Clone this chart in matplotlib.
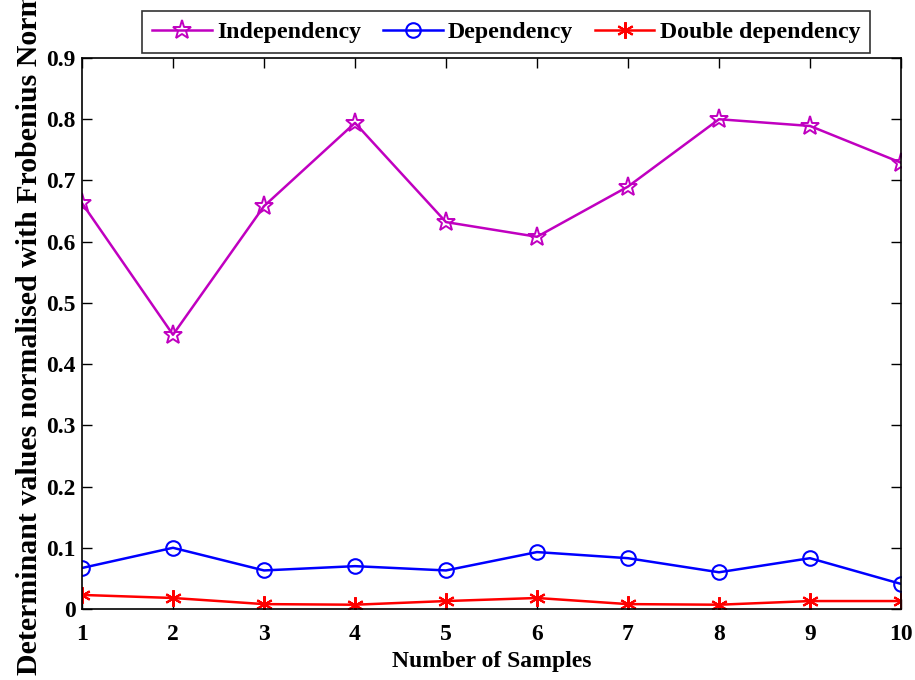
import matplotlib
matplotlib.use("Agg")
import matplotlib.pyplot as plt

plt.rcParams['font.family'] = ['Liberation Serif', 'DejaVu Serif']
plt.rcParams['font.weight'] = 'bold'

samples = [1, 2, 3, 4, 5, 6, 7, 8, 9, 10]
independency = [0.663, 0.448, 0.658, 0.794, 0.632, 0.608, 0.690, 0.800, 0.789, 0.729]
dependency = [0.067, 0.100, 0.063, 0.070, 0.063, 0.093, 0.083, 0.060, 0.083, 0.041]
double_dep = [0.023, 0.018, 0.008, 0.007, 0.013, 0.018, 0.008, 0.007, 0.013, 0.013]
yticks = [0, 0.1, 0.2, 0.3, 0.4, 0.5, 0.6, 0.7, 0.8, 0.9]
ytick_labels = ['0', '0.1', '0.2', '0.3', '0.4', '0.5', '0.6', '0.7', '0.8', '0.9']

fig = plt.figure(figsize=(9.15, 6.8), dpi=100)
ax = fig.add_axes([0.0896, 0.1044, 0.8951, 0.8103])

ax.plot(samples, independency, color='#c000c0', marker='*', markersize=14,
        markerfacecolor='none', markeredgewidth=1.4, linewidth=1.8, label='Independency')
ax.plot(samples, dependency, color='blue', marker='o', markersize=10.5,
        markerfacecolor='none', markeredgewidth=1.5, linewidth=1.8, label='Dependency')
ax.plot(samples, double_dep, color='red', marker=(6, 2, 0), markersize=12,
        markeredgewidth=1.5, linewidth=1.8, label='Double dependency')

ax.set_xlim(1, 10)
ax.set_ylim(0, 0.9)
ax.set_xticks(samples)
ax.set_yticks(yticks)
ax.set_yticklabels(ytick_labels)
ax.tick_params(direction='in', top=True, right=True, labelsize=17, length=7, width=1)
ax.tick_params(axis='x', pad=11)
ax.tick_params(axis='y', pad=4.5)
for lab in ax.get_xticklabels() + ax.get_yticklabels():
    lab.set_fontweight('bold')
for s in ax.spines.values():
    s.set_linewidth(1.2)

ax.set_xlabel('Number of Samples', fontsize=17, fontweight='bold', labelpad=4)
# long label runs off the top of the figure, as in the original
ax.set_ylabel('Determinant values normalised with Frobenius Norm', fontsize=21.5,
              fontweight='bold', labelpad=2)

leg = ax.legend(loc='lower center', bbox_to_anchor=(0.518, 1.009), ncol=3,
                fontsize=17.2, frameon=True, fancybox=False, edgecolor='black',
                handlelength=2.5, borderaxespad=0, columnspacing=0.9,
                borderpad=0.42, handletextpad=0.22)
leg.get_frame().set_linewidth(1.2)
for t in leg.get_texts():
    t.set_fontweight('bold')

fig.savefig('out.png', dpi=100)
